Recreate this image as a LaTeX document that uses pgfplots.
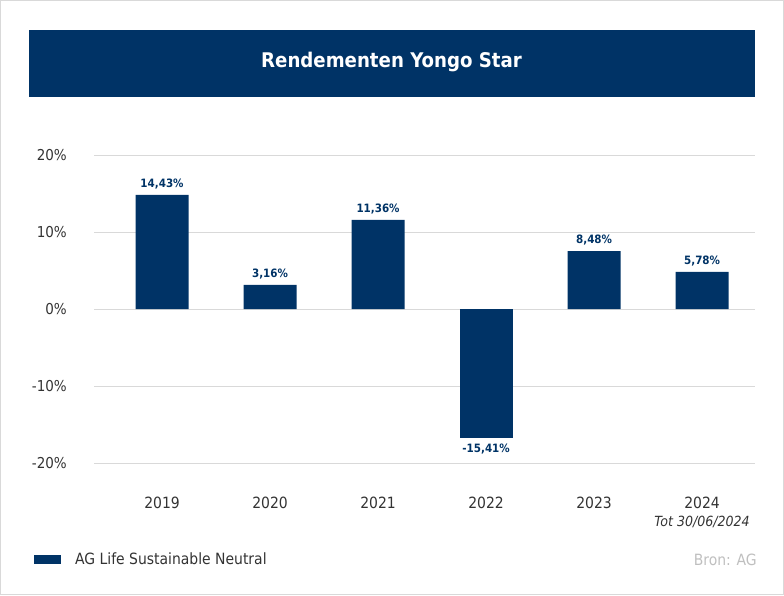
\documentclass[border=0pt]{standalone}
\usepackage{pgfplots}
\pgfplotsset{compat=1.18}
\usepackage{pgfplotstable}
\usepackage{fontspec}
\setmainfont{DejaVu Sans Condensed}
\definecolor{navy}{HTML}{003366}
\definecolor{tickgray}{HTML}{333333}
\definecolor{gridgray}{HTML}{D9D9D9}
\definecolor{srcgray}{HTML}{BFBFBF}
\pgfplotstableread{
x y lab
0 14.81 14,43\%
1 3.12 3,16\%
2 11.56 11,36\%
4 7.53 8,48\%
5 4.81 5,78\%
}\postable
\pgfplotstableread{
x y lab
3 -16.71 -15,41\%
}\negtable
\begin{document}
\begin{tikzpicture}[x=1pt,y=1pt]
\useasboundingbox (0,0) rectangle (784,-595);
\draw[gridgray, line width=1pt] (0.5,-0.5) rectangle (783.5,-594.5);
\fill[navy] (29,-29.5) rectangle (754.5,-97);
\node[white, font=\bfseries\fontsize{20.2}{24}\selectfont] at (391.5,-62) {Rendementen Yongo Star};
\begin{axis}[
  at={(94pt,-463pt)}, anchor=south west,
  scale only axis, width=661pt, height=308pt,
  xmin=-0.63, xmax=5.49, ymin=-20, ymax=20,
  axis line style={draw=none}, clip=false,
  ybar, bar width=53pt, bar shift=0pt,
  ytick={-20,-10,0,10,20},
  ymajorgrids, grid style={gridgray, line width=1pt},
  yticklabel={\pgfmathprintnumber{\tick}\%},
  /pgf/number format/assume math mode=true,
  yticklabel style={font=\fontsize{15}{18}\selectfont, text=tickgray, inner sep=0pt, anchor=east, xshift=-27pt},
  xtick={0,1,2,3,4,5},
  xticklabels={2019,2020,2021,2022,2023,2024},
  xticklabel style={font=\fontsize{15.5}{18}\selectfont, text=tickgray, inner sep=0pt, anchor=base, yshift=-45.5pt},
  major tick length=0pt,
  tick style={draw=none},
  nodes near coords,
  point meta=explicit symbolic,
  every node near coord/.append style={font=\bfseries\fontsize{11.5}{13}\selectfont, text=navy, inner xsep=0pt, inner ysep=6pt},
  legend style={at={(axis description cs:-0.0908,-0.3133)}, anchor=west, draw=none, fill=none, inner sep=0pt, font=\fontsize{15.5}{18}\selectfont, text=tickgray, legend cell align=left},
  legend image code/.code={\fill[navy] (0pt,-4.5pt) rectangle (27pt,4.5pt); \path (39pt,0pt);},
]
\addplot[fill=navy, draw=none, every node near coord/.append style={anchor=south}] table[x=x, y=y, meta=lab] {\postable};
\addlegendentry{AG Life Sustainable Neutral}
\addplot[fill=navy, draw=none, forget plot, every node near coord/.append style={anchor=north}] table[x=x, y=y, meta=lab] {\negtable};
\node[font=\itshape\fontsize{14}{16}\selectfont, text=tickgray, anchor=base] at (axis cs:5,-20) [yshift=-63.5pt] {Tot 30/06/2024};
\end{axis}
\node[font=\fontsize{15.5}{18}\selectfont, text=srcgray, anchor=east, inner sep=0pt] at (757,-559.5) {Bron: AG};
\end{tikzpicture}
\end{document}
